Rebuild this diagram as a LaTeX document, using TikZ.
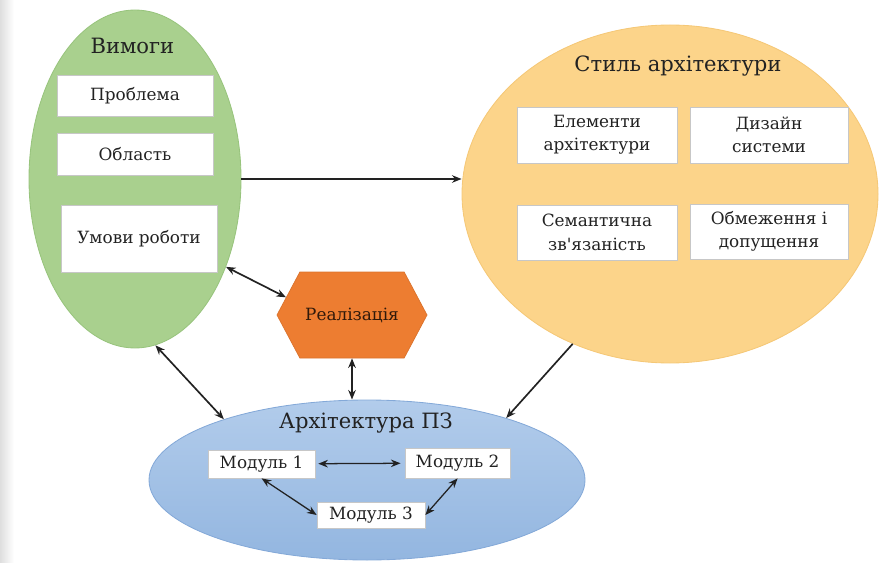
\documentclass[tikz,border=0pt]{standalone}
\usepackage{fontspec}
\setmainfont{DejaVu Serif}
\newfontfamily\timescyr{DejaVu Serif}
\usetikzlibrary{arrows.meta, shapes.geometric, shapes.symbols}
\definecolor{cgreen}{HTML}{A9D08E}
\definecolor{cgreenline}{HTML}{98C47D}
\definecolor{cgold}{HTML}{FCD48A}
\definecolor{cgoldline}{HTML}{F5C877}
\definecolor{cbluetop}{HTML}{B2CCEB}
\definecolor{cbluebot}{HTML}{93B6E0}
\definecolor{cblueline}{HTML}{84A9D8}
\definecolor{chex}{HTML}{ED7D31}
\definecolor{cink}{HTML}{222222}
\tikzset{
  every picture/.style={line width=0.8pt, font=\timescyr},
  blob/.style={ellipse, draw=#1line, fill=#1, line width=0.6pt, inner sep=0pt},
  box/.style={draw=black!22, fill=white, line width=0.5pt, align=center, inner sep=2pt, text=cink, font=\timescyr\fontsize{12}{16.5}\selectfont},
  title/.style={text=cink, font=\timescyr\fontsize{15}{20}\selectfont},
  arrow/.style={-{Stealth[length=2.4mm, width=1.9mm]}, draw=cink, line width=1.2pt},
  twoway/.style={{Stealth[length=2.4mm, width=1.9mm]}-{Stealth[length=2.4mm, width=1.9mm]}, draw=cink, line width=1.2pt},
  thinway/.style={twoway, line width=0.9pt},
}

\begin{document}
\begin{tikzpicture}
  \useasboundingbox (0,0) rectangle (22,14.05);
  % slide edge
  \shade[left color=black!13, right color=white] (0,0) rectangle (0.35,14.05);
  % big shapes
  \node[blob=cgreen, minimum width=5.3cm, minimum height=8.45cm] (vymohy) at (3.375,9.575) {};
  \node[blob=cgold, minimum width=10.4cm, minimum height=8.45cm] (styl) at (16.75,9.2) {};
  \node[ellipse, draw=cblueline, top color=cbluetop, bottom color=cbluebot, line width=0.6pt,
        minimum width=10.9cm, minimum height=4cm, inner sep=0pt] (arch) at (9.175,2.05) {};
  \node[signal, signal to=east and west, signal pointer angle=124, fill=chex, draw=chex!92!black,
        line width=0.5pt, minimum width=3.75cm, minimum height=2.15cm, inner sep=0pt,
        text=black!80!chex, font=\timescyr\fontsize{12}{16.5}\selectfont] (real) at (8.8,6.175) {Реалізація};
  % requirements
  \node[title] (tvymohy) at (3.31,12.9) {Вимоги};
  \node[box, minimum width=3.9cm, minimum height=1.025cm] (problema) at (3.375,11.66) {Проблема};
  \node[box, minimum width=3.9cm, minimum height=1.05cm] (oblast) at (3.375,10.2) {Область};
  \node[box, minimum width=3.9cm, minimum height=1.675cm] (umovy) at (3.475,8.09) {Умови роботи};
  % style
  \node[title] (tstyl) at (16.95,12.4) {Стиль архітектури};
  \node[box, minimum width=4cm, minimum height=1.4cm] (elementy) at (14.925,10.675) {Елементи\\архітектури};
  \node[box, minimum width=3.95cm, minimum height=1.4cm] (dyzain) at (19.225,10.675) {Дизайн\\системи};
  \node[box, minimum width=4cm, minimum height=1.375cm] (semantyka) at (14.925,8.24) {Семантична\\зв'язаність};
  \node[box, minimum width=3.95cm, minimum height=1.375cm] (obmezh) at (19.225,8.26) {Обмеження і\\допущення};
  % architecture
  \node[title] (tarch) at (9.15,3.475) {Архітектура ПЗ};
  \node[box, minimum width=2.675cm, minimum height=0.7cm] (m1) at (6.54,2.45) {Модуль 1};
  \node[box, minimum width=2.625cm, minimum height=0.75cm] (m2) at (11.44,2.475) {Модуль 2};
  \node[box, minimum width=2.7cm, minimum height=0.65cm] (m3) at (9.275,1.175) {Модуль 3};
  % links
  \draw[arrow] (vymohy.east) -- (vymohy.east -| styl.west);
  \draw[twoway] (vymohy.316) -- (real.165);
  \draw[twoway] (vymohy.277) -- (arch.157);
  \draw[twoway] (real.south) -- (real.south |- arch.north);
  \draw[arrow] (styl.237) -- (arch.24);
  \draw[thinway, shorten <=2pt, shorten >=3pt] (m1) -- (m2);
  \draw[thinway] (m1.south) -- (m3.west);
  \draw[thinway] (m2.south) -- (m3.east);
\end{tikzpicture}
\end{document}
